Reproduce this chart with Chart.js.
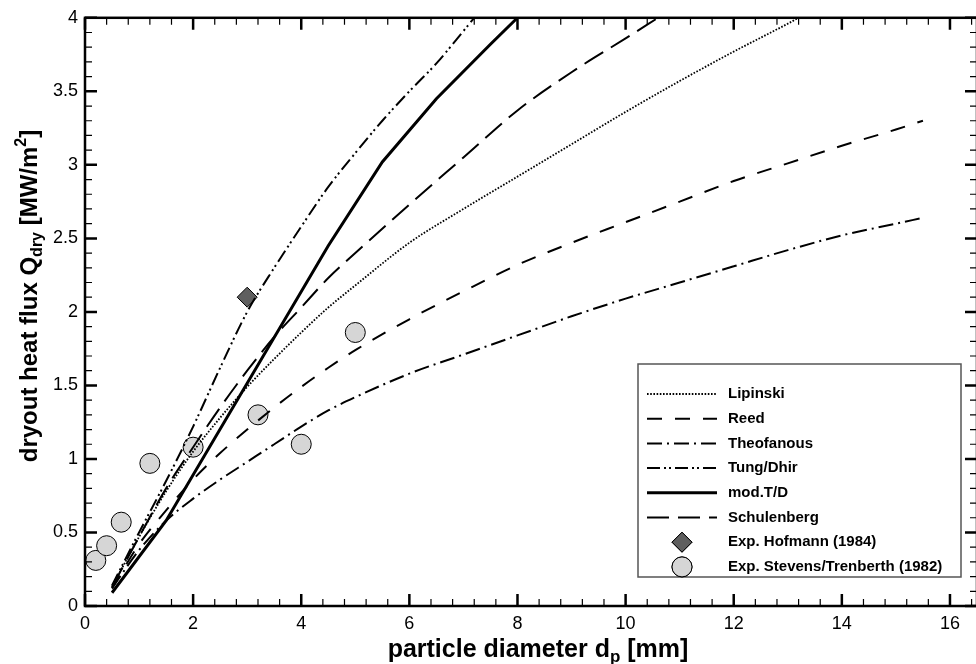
<!DOCTYPE html>
<html>
<head>
<meta charset="utf-8">
<script src="https://cdn.jsdelivr.net/npm/chart.js@4.4.1/dist/chart.umd.min.js"></script>
<style>
  html, body { margin: 0; padding: 0; overflow: hidden; background: #fff; }
  #wrap { position: relative; width: 976px; height: 664px; overflow: hidden; }
  #myCanvas { display: block; }
</style>
</head>
<body>
<div id="wrap"><canvas id="myCanvas" width="988" height="664"></canvas></div>
<script>
// data
const lipX = [0.5, 1, 1.5, 2, 2.5, 3, 3.5, 4, 4.5, 5, 6, 7, 8, 9, 10, 11, 12, 13, 13.2];
const lipY = [0.13, 0.47, 0.78, 1.05, 1.28, 1.49, 1.68, 1.86, 2.03, 2.18, 2.47, 2.7, 2.92, 3.14, 3.36, 3.57, 3.77, 3.96, 4.0];

const reedX = [0.5, 1, 1.5, 2, 2.5, 3, 3.5, 4, 4.5, 5, 6, 7, 8, 9, 10, 11, 12, 13, 14, 15, 15.5];
const reedY = [0.12, 0.42, 0.65, 0.86, 1.04, 1.2, 1.35, 1.49, 1.62, 1.74, 1.95, 2.14, 2.32, 2.47, 2.61, 2.75, 2.89, 3.01, 3.13, 3.24, 3.30];

const theoX = [0.5, 1, 1.5, 2, 2.5, 3, 3.5, 4, 4.5, 5, 6, 7, 8, 9, 10, 11, 12, 13, 14, 15, 15.5];
const theoY = [0.12, 0.38, 0.58, 0.73, 0.86, 0.98, 1.1, 1.22, 1.33, 1.42, 1.58, 1.71, 1.84, 1.97, 2.09, 2.2, 2.31, 2.42, 2.52, 2.6, 2.64];

const tungX = [0.5, 1, 1.5, 2, 2.5, 3, 3.5, 4, 4.5, 5, 5.5, 6, 6.5, 7, 7.2];
const tungY = [0.14, 0.5, 0.85, 1.22, 1.62, 2.0, 2.3, 2.58, 2.85, 3.08, 3.3, 3.5, 3.69, 3.91, 4.0];

const modX = [0.5, 1.5, 4.5, 5.5, 6.5, 7.5, 8];
const modY = [0.09, 0.58, 2.45, 3.02, 3.45, 3.82, 4.0];

const schX = [0.5, 1, 1.5, 2, 2.5, 3, 3.5, 4, 4.5, 5, 6, 7, 8, 9, 10, 10.6];
const schY = [0.13, 0.47, 0.8, 1.08, 1.35, 1.6, 1.83, 2.03, 2.23, 2.4, 2.73, 3.05, 3.37, 3.63, 3.86, 4.0];

const hofX = [3.0];
const hofY = [2.1];

const stevX = [0.2, 0.4, 0.67, 1.2, 2.0, 3.2, 4.0, 5.0];
const stevY = [0.31, 0.41, 0.57, 0.97, 1.08, 1.30, 1.10, 1.86];

// axis ranges / tick steps
const xMin = 0, xMax = 16.5, xMajor = 2, xMinor = 0.4;
const yMin = 0, yMax = 4, yMajor = 0.5, yMinor = 0.1;

const FONT = '"Liberation Sans", Arial, Helvetica, sans-serif';

const pts = (xs, ys) => xs.map((x, i) => ({ x: x, y: ys[i] }));

function lineSet(label, xs, ys, dash, width, smooth) {
  return {
    label: label,
    data: pts(xs, ys),
    showLine: true,
    borderColor: '#000',
    borderWidth: width,
    borderDash: dash,
    pointRadius: 0,
    fill: false,
    cubicInterpolationMode: smooth ? 'monotone' : 'default',
    tension: 0
  };
}

const datasets = [
  lineSet('Lipinski', lipX, lipY, [1.6, 1.6], 1.8, true),
  lineSet('Reed', reedX, reedY, [15, 13], 2, true),
  lineSet('Theofanous', theoX, theoY, [15, 5, 2, 5], 2, true),
  lineSet('Tung/Dhir', tungX, tungY, [13, 4, 2, 3, 2, 4], 2, true),
  lineSet('mod.T/D', modX, modY, [], 3, false),
  lineSet('Schulenberg', schX, schY, [22, 9], 2, true),
  {
    label: 'Exp. Hofmann (1984)',
    data: pts(hofX, hofY),
    pointStyle: 'rectRot',
    pointRadius: 10,
    backgroundColor: '#5f5f5f',
    borderColor: '#000',
    borderWidth: 1,
    showLine: false
  },
  {
    label: 'Exp. Stevens/Trenberth (1982)',
    data: pts(stevX, stevY),
    pointStyle: 'circle',
    pointRadius: 10,
    backgroundColor: '#d6d6d6',
    borderColor: '#000',
    borderWidth: 1,
    showLine: false
  }
];

// text with sub/superscripts
function richText(ctx, parts, cx, cy) {
  let total = 0;
  parts.forEach(p => {
    ctx.font = 'bold ' + p.size + 'px ' + FONT;
    total += ctx.measureText(p.t).width;
  });
  let x = cx - total / 2;
  ctx.textAlign = 'left';
  ctx.textBaseline = 'alphabetic';
  parts.forEach(p => {
    ctx.font = 'bold ' + p.size + 'px ' + FONT;
    ctx.fillText(p.t, x, cy + (p.dy || 0));
    x += ctx.measureText(p.t).width;
  });
}

const framePlugin = {
  id: 'frame',
  afterDraw(chart) {
    const ctx = chart.ctx;
    const a = chart.chartArea;
    const xs = chart.scales.x, ys = chart.scales.y;
    ctx.save();
    ctx.strokeStyle = '#000';

    // minor + major ticks, pointing inward on all four sides
    const nx = Math.round((xMax - xMin) / xMinor);
    const per = Math.round(xMajor / xMinor);
    for (let i = 0; i <= nx; i++) {
      const v = xMin + i * xMinor;
      if (v > xMax + 1e-9) break;
      const px = xs.getPixelForValue(v);
      const major = i % per === 0;
      const len = major ? 12 : 7;
      ctx.lineWidth = major ? 2.5 : 1.2;
      ctx.beginPath();
      ctx.moveTo(px, a.bottom); ctx.lineTo(px, a.bottom - len);
      ctx.moveTo(px, a.top); ctx.lineTo(px, a.top + len);
      ctx.stroke();
    }
    const ny = Math.round((yMax - yMin) / yMinor);
    const perY = Math.round(yMajor / yMinor);
    for (let i = 0; i <= ny; i++) {
      const v = yMin + i * yMinor;
      const py = ys.getPixelForValue(v);
      const major = i % perY === 0;
      const len = major ? 12 : 7;
      ctx.lineWidth = major ? 2.5 : 1.2;
      ctx.beginPath();
      ctx.moveTo(a.left, py); ctx.lineTo(a.left + len, py);
      ctx.moveTo(a.right, py); ctx.lineTo(a.right - len, py);
      ctx.stroke();
    }

    // frame
    ctx.lineWidth = 2.5;
    ctx.strokeRect(a.left, a.top, a.right - a.left, a.bottom - a.top);

    // legend
    const box = { l: 638, t: 364, r: 961, b: 577 };
    ctx.fillStyle = '#fff';
    ctx.fillRect(box.l, box.t, box.r - box.l, box.b - box.t);
    ctx.lineWidth = 1.5;
    ctx.strokeStyle = '#555';
    ctx.strokeRect(box.l, box.t, box.r - box.l, box.b - box.t);
    const rowH = 24.7, y0 = 394;
    chart.data.datasets.forEach((ds, i) => {
      const yy = y0 + i * rowH;
      ctx.strokeStyle = '#000';
      if (ds.showLine) {
        ctx.lineWidth = ds.borderWidth;
        ctx.setLineDash(ds.borderDash || []);
        ctx.beginPath();
        ctx.moveTo(647, yy); ctx.lineTo(717, yy);
        ctx.stroke();
        ctx.setLineDash([]);
      } else {
        ctx.lineWidth = ds.borderWidth;
        ctx.fillStyle = ds.backgroundColor;
        Chart.helpers.drawPoint(ctx, { pointStyle: ds.pointStyle, radius: ds.pointRadius, borderWidth: 1, rotation: 0 }, 682, yy);
        ctx.fill();
        ctx.stroke();
      }
      ctx.fillStyle = '#000';
      ctx.font = 'bold 15px ' + FONT;
      ctx.textAlign = 'left';
      ctx.textBaseline = 'middle';
      ctx.fillText(ds.label, 728, yy);
    });

    // axis titles
    ctx.fillStyle = '#000';
    richText(ctx, [
      { t: 'particle diameter d', size: 25 },
      { t: 'p', size: 17, dy: 5 },
      { t: ' [mm]', size: 25 }
    ], 538, 657);

    ctx.save();
    ctx.translate(37, 296);
    ctx.rotate(-Math.PI / 2);
    richText(ctx, [
      { t: 'dryout heat flux Q', size: 24 },
      { t: 'dry', size: 16, dy: 5 },
      { t: ' [MW/m', size: 24 },
      { t: '2', size: 16, dy: -11 },
      { t: ']', size: 24 }
    ], 0, 0);
    ctx.restore();

    ctx.restore();
  }
};

const fmt = (v) => String(Number(v.toFixed(2)));

const chart = new Chart(document.getElementById('myCanvas'), {
  type: 'scatter',
  data: { datasets: datasets },
  options: {
    responsive: false,
    animation: false,
    layout: { padding: { top: 14, right: 0, left: 0, bottom: 0 } },
    plugins: { legend: { display: false }, tooltip: { enabled: false } },
    scales: {
      x: {
        type: 'linear',
        min: xMin,
        max: xMax,
        grid: { display: false, drawTicks: false },
        border: { display: false },
        ticks: {
          stepSize: xMajor,
          includeBounds: false,
          padding: 7,
          color: '#000',
          font: { family: FONT, size: 18 },
          maxRotation: 0,
          callback: fmt
        },
        afterFit: (s) => { s.height = 58; }
      },
      y: {
        type: 'linear',
        min: yMin,
        max: yMax,
        grid: { display: false, drawTicks: false },
        border: { display: false },
        ticks: {
          stepSize: yMajor,
          includeBounds: false,
          padding: 7,
          color: '#000',
          font: { family: FONT, size: 18 },
          callback: fmt
        },
        afterFit: (s) => { s.width = 85; }
      }
    }
  },
  plugins: [framePlugin]
});
</script>
</body>
</html>
